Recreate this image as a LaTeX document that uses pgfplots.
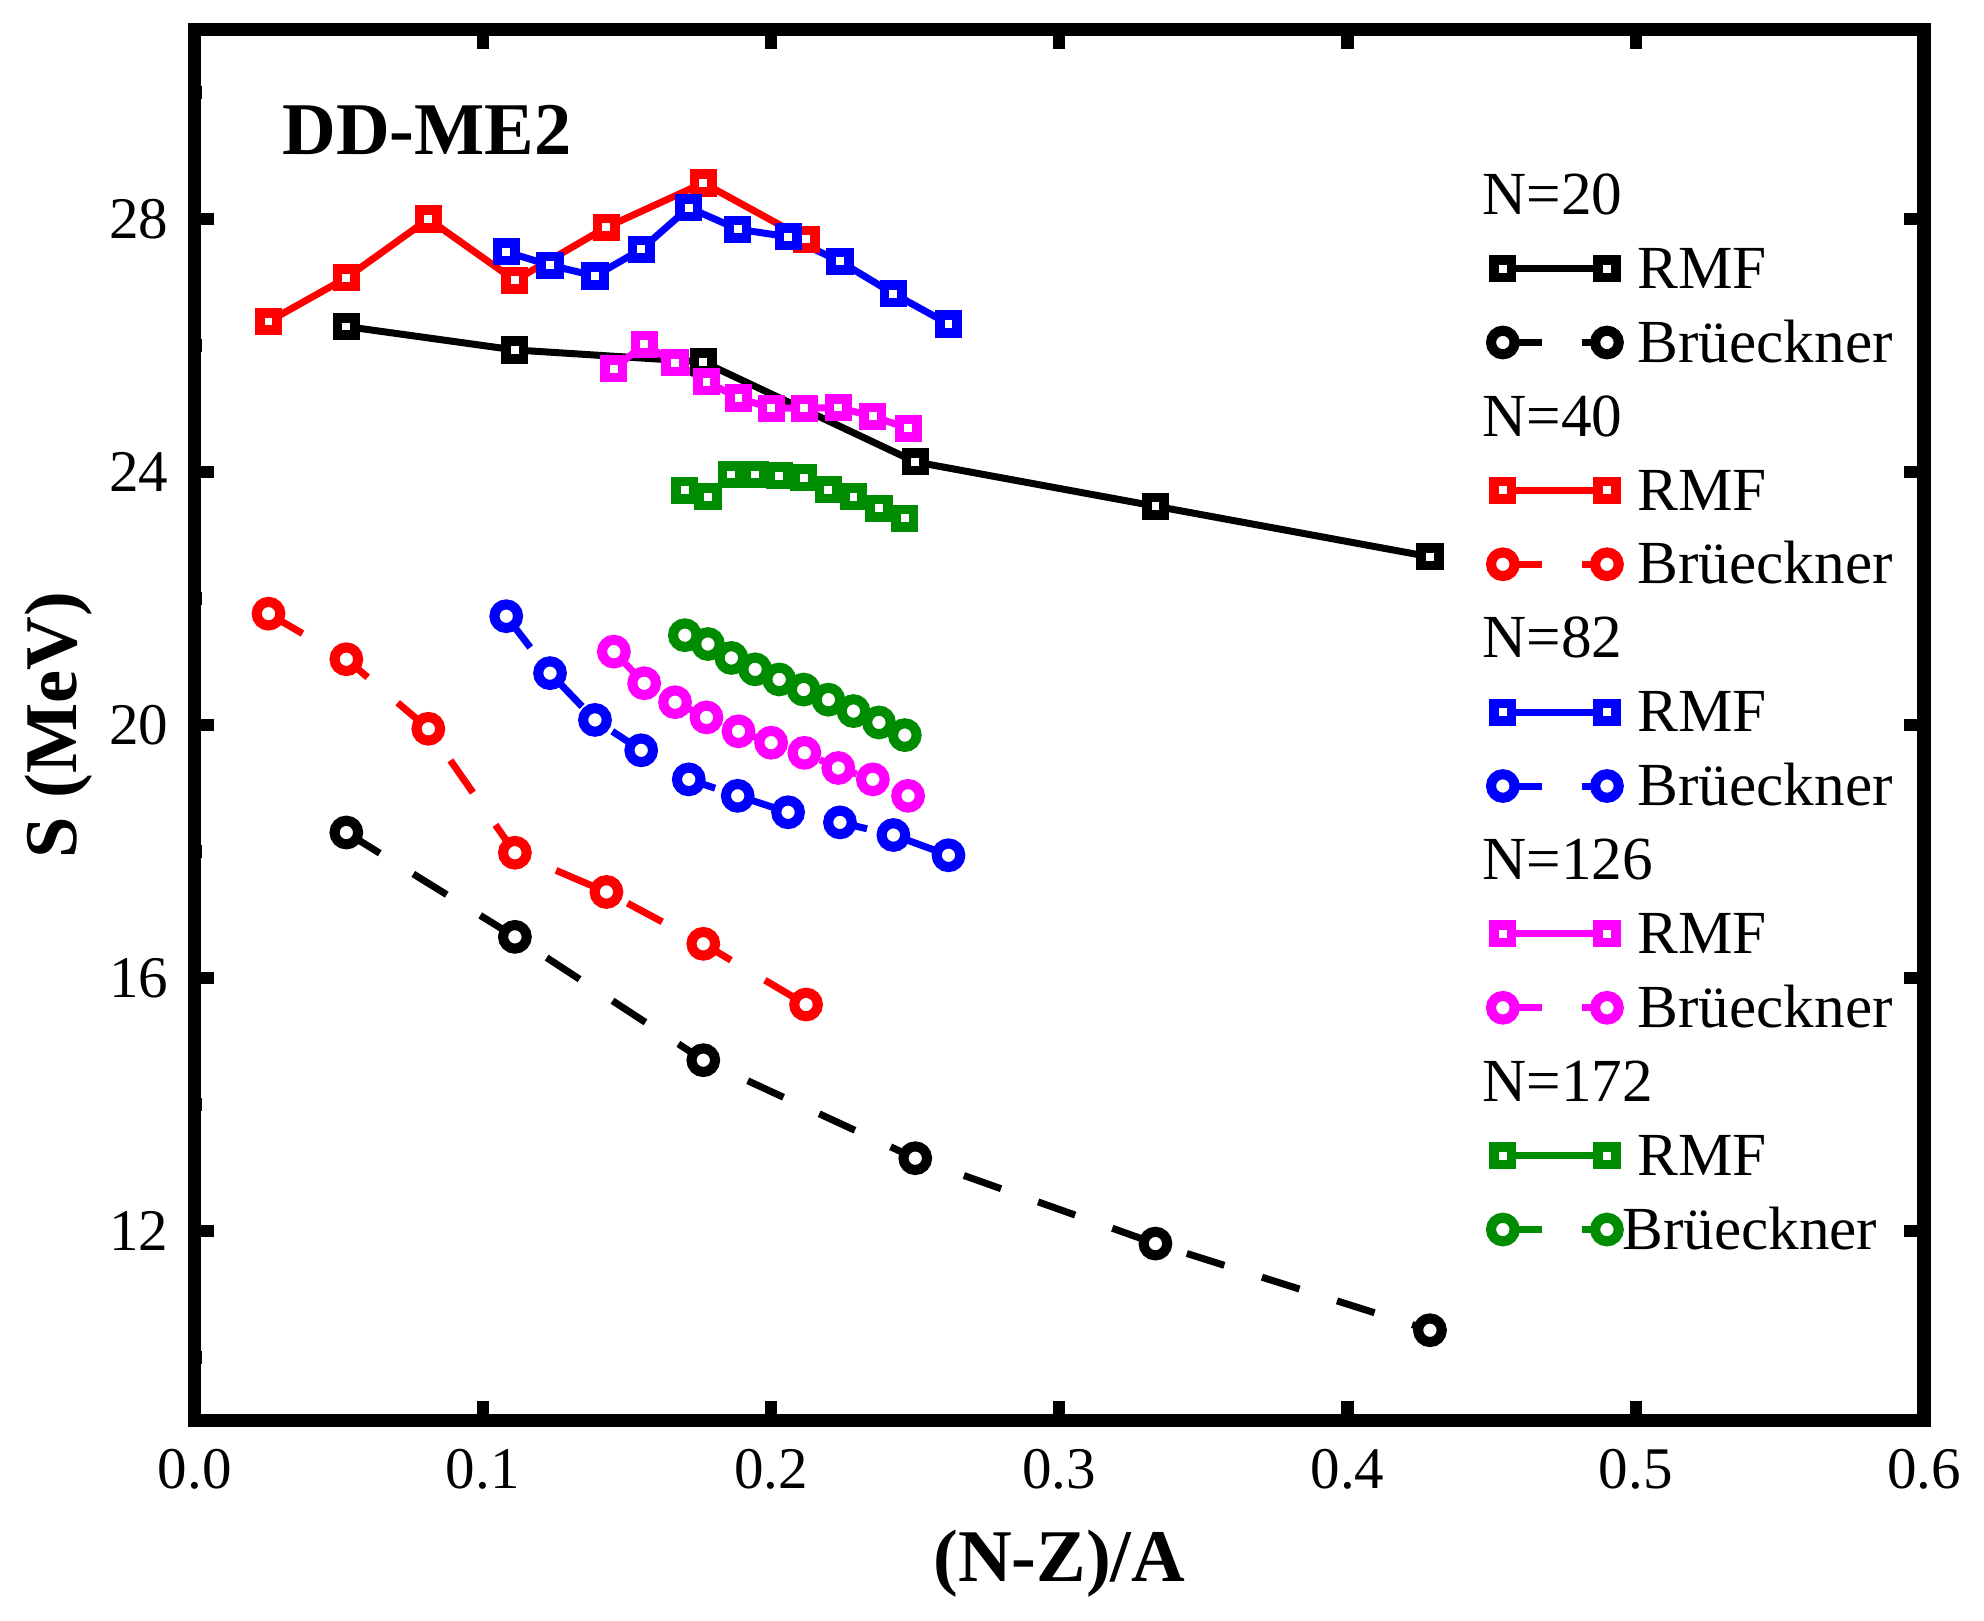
\documentclass[border=0pt]{standalone}
\usepackage{pgfplots}
\pgfplotsset{compat=1.18}
\usepackage{fontspec}
\setmainfont{Liberation Serif}
\usetikzlibrary{calc}
\definecolor{cgreen}{RGB}{0,140,0}
\definecolor{cmag}{RGB}{255,0,255}
\definecolor{cred}{RGB}{255,0,0}
\definecolor{cblue}{RGB}{0,0,255}
\begin{document}
\begin{tikzpicture}
\begin{axis}[
  name=ax,
  width=395.4pt, height=318.1pt, scale only axis,
  xmin=0, xmax=0.6, ymin=9, ymax=31,
  xtick={0,0.1,0.2,0.3,0.4,0.5,0.6},
  minor xtick={0.05,0.15,0.25,0.35,0.45,0.55},
  ytick={12,16,20,24,28},
  minor ytick={10,14,18,22,26,30},
  tick align=inside,
  major tick length=4.5pt, minor tick length=1.6pt,
  every tick/.style={line width=2.8pt, black},
  axis line style={line width=3.1pt},
  /pgf/number format/assume math mode=true,
  tick label style={font=\fontsize{13.5}{16}\selectfont},
  xticklabel style={/pgf/number format/fixed, /pgf/number format/fixed zerofill, /pgf/number format/precision=1, yshift=-3pt},
  yticklabel style={xshift=-2.5pt},
  xlabel={(N-Z)/A},
  ylabel={S (MeV)},
  label style={font=\fontsize{17}{20}\selectfont\bfseries},
  xlabel style={at={(axis description cs:0.5,0)}, anchor=center, yshift=-32.7pt},
  ylabel style={at={(axis description cs:-0.0787,0.5)}, anchor=center},
  legend image code/.code={\draw[#1] plot coordinates {(0pt,0pt) (23.8pt,0pt)};},
  legend cell align=left,
  legend style={draw=none, fill=none, at={(0.7496,0.9016)}, anchor=north west,
    inner sep=0pt, outer sep=0pt, row sep=3.9pt, column sep=4.3pt,
    font=\fontsize{14}{16}\selectfont,
    nodes={inner sep=0pt, text height=11pt, text depth=2pt}},
  rmf/.style={solid, line width=1.6pt, mark=square*, mark size=2pt, mark options={solid, fill=white, line width=2.2pt}},
  bru/.style={dash pattern=on 9pt off 9pt, line width=1.6pt, mark=*, mark size=2.7pt, mark options={solid, fill=white, line width=2.3pt}},
]
% N=20
\addplot[black, rmf, forget plot] coordinates {(0.05263,26.30) (0.11111,25.93) (0.17647,25.74) (0.25,24.16) (0.33333,23.46) (0.42857,22.66)};
\addplot[black, bru, forget plot] coordinates {(0.05263,18.30) (0.11111,16.65) (0.17647,14.70) (0.25,13.15) (0.33333,11.80) (0.42857,10.43)};
% N=40
\addplot[cred, rmf, forget plot] coordinates {(0.02564,26.38) (0.05263,27.07) (0.08108,28.00) (0.11111,27.03) (0.14286,27.87) (0.17647,28.57) (0.21212,27.68)};
\addplot[cred, bru, forget plot] coordinates {(0.02564,21.76) (0.05263,21.04) (0.08108,19.94) (0.11111,17.98) (0.14286,17.36) (0.17647,16.54) (0.21212,15.58)};
% N=82
\addplot[cblue, rmf, forget plot] coordinates {(0.10811,27.48) (0.12329,27.27) (0.13889,27.10) (0.15493,27.52) (0.17143,28.18) (0.18841,27.84) (0.20588,27.72) (0.22388,27.33) (0.24242,26.82) (0.26154,26.34)};
\addplot[cblue, bru, forget plot] coordinates {(0.10811,21.72) (0.12329,20.82) (0.13889,20.08) (0.15493,19.60) (0.17143,19.14) (0.18841,18.88) (0.20588,18.62) (0.22388,18.46) (0.24242,18.26) (0.26154,17.94)};
% N=126
\addplot[cmag, rmf, forget plot] coordinates {(0.14545,25.63) (0.15596,26.02) (0.16667,25.73) (0.17757,25.43) (0.18868,25.17) (0.2,25.01) (0.21154,25.01) (0.2233,25.02) (0.23529,24.88) (0.24752,24.69)};
\addplot[cmag, bru, forget plot] coordinates {(0.14545,21.16) (0.15596,20.66) (0.16667,20.36) (0.17757,20.12) (0.18868,19.90) (0.2,19.72) (0.21154,19.56) (0.2233,19.32) (0.23529,19.14) (0.24752,18.88)};
% N=172
\addplot[cgreen, rmf, forget plot] coordinates {(0.17007,23.71) (0.17808,23.61) (0.18621,23.96) (0.19444,23.96) (0.20280,23.94) (0.21127,23.91) (0.21986,23.72) (0.22857,23.61) (0.23741,23.43) (0.24638,23.27)};
\addplot[cgreen, bru, forget plot] coordinates {(0.17007,21.42) (0.17808,21.28) (0.18621,21.06) (0.19444,20.88) (0.20280,20.72) (0.21127,20.56) (0.21986,20.40) (0.22857,20.22) (0.23741,20.04) (0.24638,19.84)};
% legend
\addlegendimage{empty legend}\addlegendentry{\makebox[0pt][l]{\hspace{-36pt}N=20}}
\addlegendimage{black, rmf}\addlegendentry{RMF}
\addlegendimage{black, bru}\addlegendentry{Brüeckner}
\addlegendimage{empty legend}\addlegendentry{\makebox[0pt][l]{\hspace{-36pt}N=40}}
\addlegendimage{cred, rmf}\addlegendentry{RMF}
\addlegendimage{cred, bru}\addlegendentry{Brüeckner}
\addlegendimage{empty legend}\addlegendentry{\makebox[0pt][l]{\hspace{-36pt}N=82}}
\addlegendimage{cblue, rmf}\addlegendentry{RMF}
\addlegendimage{cblue, bru}\addlegendentry{Brüeckner}
\addlegendimage{empty legend}\addlegendentry{\makebox[0pt][l]{\hspace{-36pt}N=126}}
\addlegendimage{cmag, rmf}\addlegendentry{RMF}
\addlegendimage{cmag, bru}\addlegendentry{Brüeckner}
\addlegendimage{empty legend}\addlegendentry{\makebox[0pt][l]{\hspace{-36pt}N=172}}
\addlegendimage{cgreen, rmf}\addlegendentry{RMF}
\addlegendimage{cgreen, bru}\addlegendentry{\hspace{-3.5pt}Brüeckner}
\node[anchor=base west, inner sep=0pt, font=\fontsize{17}{20}\selectfont\bfseries] at (axis cs:0.0302,29.02) {DD-ME2};
\end{axis}
\pgfresetboundingbox
\path ($(ax.south west)+(-44.5pt,-45.6pt)$) rectangle ($(ax.north east)+(13.7pt,6.7pt)$);
\end{tikzpicture}
\end{document}
